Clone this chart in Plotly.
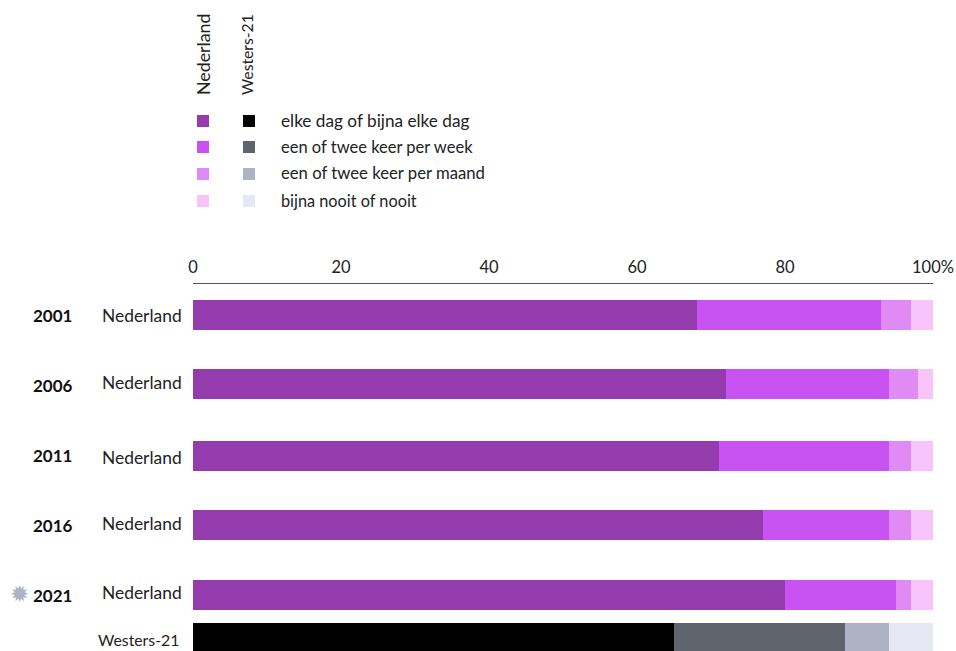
import plotly.graph_objects as go

W, H = 956, 651
FONT = "Lato"

# data
years = ["2001", "2006", "2011", "2016", "2021"]
categories = ["elke dag of bijna elke dag", "een of twee keer per week",
              "een of twee keer per maand", "bijna nooit of nooit"]
nederland_daily = [68.1, 72, 71.1, 77, 80]
nederland_weekly = [24.9, 22, 22.9, 17, 15]
nederland_monthly = [4, 4, 3, 3, 2]
nederland_never = [3, 2, 3, 3, 3]
westers_values = [65, 23.1, 5.9, 6]
tick_values = [0, 20, 40, 60, 80, 100]
tick_labels = ["0", "20", "40", "60", "80", "100%"]

# styling / layout
nl_colors = ["#943BAD", "#C852F2", "#E08AF5", "#F7C4FB"]
we_colors = ["#000000", "#5F636C", "#AEB3C3", "#E6E8F3"]
row_y = [315, 384, 456, 525, 595]
westers_y = 637.5
legend_y = [121, 147, 174, 201]
legend_sizes = [17.2, 16.5, 16.7, 16.3]
year_label_y = [315, 385, 455, 525, 595]
name_label_y = [315, 382, 457, 523, 592]

fig = go.Figure()
nl_series = [nederland_daily, nederland_weekly, nederland_monthly, nederland_never]
for vals, c, name in zip(nl_series, nl_colors, categories):
    fig.add_bar(x=vals, y=row_y, orientation="h", width=30, marker=dict(color=c, line_width=0),
                name=name, showlegend=False)
for v, c, name in zip(westers_values, we_colors, categories):
    fig.add_bar(x=[v], y=[westers_y], orientation="h", width=30, marker=dict(color=c, line_width=0),
                name=name, showlegend=False)

L, R, T, B = 193, 23, 284, 0
pw, ph = W - L - R, H - T - B
def px(x):
    return (x - L) / pw
def py(y):
    return (H - y - B) / ph

ann = []
def text(x, y, s, size=17, color="#222222", anchor="left", **kw):
    ann.append(dict(x=px(x), y=py(y), xref="paper", yref="paper", text=s, showarrow=False,
                    xanchor=anchor, yanchor="middle", font=dict(family=FONT, size=size, color=color), **kw))

shapes = []
for i, (ly, cat) in enumerate(zip(legend_y, categories)):
    text(279, ly - 0.5, cat, size=legend_sizes[i])
    for x0, c in ((197, nl_colors[i]), (243, we_colors[i])):
        shapes.append(dict(type="rect", xref="paper", yref="paper", x0=px(x0), x1=px(x0 + 12),
                           y0=py(ly + 6), y1=py(ly - 6), fillcolor=c, line_width=0))
text(203, 55, "Nederland", size=17.8, anchor="center", textangle=-90)
text(247, 55, "Westers-21", size=15.7, anchor="center", textangle=-90)

for y, yl in zip(year_label_y, years):
    text(31, y, f"<b>{yl}</b>", size=17, color="#111111")
for y in name_label_y:
    text(184, y, "Nederland", size=17.4, anchor="right")
text(181, 639, "Westers-21", size=15.8, anchor="right")
text(19, 593, "✹", size=23, color="#AEB3C3", anchor="center")

fig.update_layout(
    width=W, height=H, barmode="stack", paper_bgcolor="white", plot_bgcolor="white",
    margin=dict(l=L, r=R, t=T, b=B, pad=0), annotations=ann, shapes=shapes,
    font=dict(family=FONT, size=17, color="#222222"),
    xaxis=dict(side="top", range=[0, 100], tickvals=tick_values, ticktext=tick_labels,
               showgrid=False, zeroline=False, showline=True, linecolor="#555555", linewidth=1.3,
               ticks="", ticklabelstandoff=3, tickfont=dict(family=FONT, size=16.5, color="#222222")),
    yaxis=dict(range=[H, T], showgrid=False, zeroline=False, showticklabels=False, ticks="", fixedrange=True),
)
fig.write_html("out.html", config=dict(displayModeBar=False),
               post_script="document.body.style.margin='0';")
